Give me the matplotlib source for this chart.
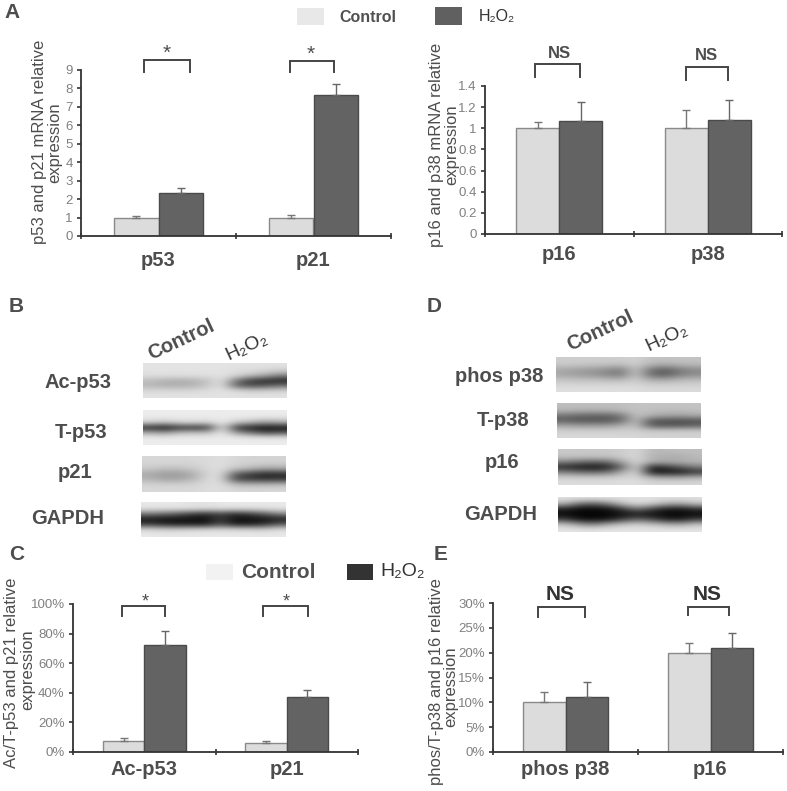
import matplotlib
matplotlib.use('Agg')
import matplotlib.pyplot as plt
import numpy as np
from matplotlib.patches import Rectangle

plt.rcParams['font.family'] = ['Liberation Sans', 'DejaVu Sans']

W, H = 787, 791

# panel A left
a1_cats = ['p53', 'p21']
a1_ctrl = [1.0, 1.0]
a1_ctrl_err = [0.1, 0.15]
a1_h2o2 = [2.35, 7.67]
a1_h2o2_err = [0.25, 0.55]
a1_ticks = [0, 1, 2, 3, 4, 5, 6, 7, 8, 9]
a1_labels = ['0', '1', '2', '3', '4', '5', '6', '7', '8', '9']

# panel A right
a2_cats = ['p16', 'p38']
a2_ctrl = [1.0, 1.0]
a2_ctrl_err = [0.06, 0.17]
a2_h2o2 = [1.07, 1.08]
a2_h2o2_err = [0.18, 0.19]
a2_ticks = [0, 0.2, 0.4, 0.6, 0.8, 1.0, 1.2, 1.4]
a2_labels = ['0', '0.2', '0.4', '0.6', '0.8', '1', '1.2', '1.4']

# panel C
c_cats = ['Ac-p53', 'p21']
c_ctrl = [7.5, 6.0]
c_ctrl_err = [2.0, 1.7]
c_h2o2 = [72.5, 37.5]
c_h2o2_err = [9.0, 4.5]
c_ticks = [0, 20, 40, 60, 80, 100]
c_labels = ['0%', '20%', '40%', '60%', '80%', '100%']

# panel E
e_cats = ['phos p38', 'p16']
e_ctrl = [10, 20]
e_ctrl_err = [2, 2]
e_h2o2 = [11, 21]
e_h2o2_err = [3, 3]
e_ticks = [0, 5, 10, 15, 20, 25, 30]
e_labels = ['0%', '5%', '10%', '15%', '20%', '25%', '30%']

# western blots, grey levels (rows top to bottom, lanes left to right)
blot_ac_p53 = [[228, 228, 228, 228, 228, 228, 225, 225, 225, 225],
               [226, 226, 226, 226, 226, 226, 222, 220, 215, 205],
               [222, 222, 222, 222, 222, 226, 215, 190, 165, 130],
               [190, 178, 175, 180, 195, 226, 120, 60, 45, 35],
               [182, 175, 175, 178, 198, 226, 95, 75, 85, 110],
               [215, 215, 212, 215, 220, 226, 215, 205, 205, 210],
               [226, 226, 226, 226, 226, 226, 226, 226, 226, 226]]
blot_t_p53 = [[236, 236, 236, 236, 236, 236, 236, 236, 236, 236],
              [234, 234, 234, 234, 234, 234, 234, 232, 228, 228],
              [205, 190, 210, 215, 205, 234, 195, 175, 150, 165],
              [40, 20, 50, 50, 50, 234, 50, 30, 15, 20],
              [170, 150, 185, 190, 185, 234, 150, 110, 70, 85],
              [234, 232, 234, 234, 234, 234, 234, 230, 226, 228],
              [236, 236, 236, 236, 236, 236, 236, 236, 236, 236]]
blot_p21 = [[215, 215, 215, 215, 218, 222, 215, 212, 212, 212],
            [212, 212, 212, 212, 218, 222, 212, 208, 205, 205],
            [200, 190, 190, 200, 215, 222, 195, 180, 160, 165],
            [170, 155, 155, 170, 212, 222, 90, 60, 35, 40],
            [180, 165, 165, 180, 215, 222, 70, 60, 50, 55],
            [210, 208, 208, 210, 218, 222, 185, 180, 180, 185],
            [216, 216, 216, 216, 220, 222, 215, 215, 215, 215]]
blot_gapdh_b = [[232, 232, 232, 225, 225, 232, 232, 232, 232, 232],
                [225, 225, 225, 225, 222, 222, 222, 222, 225, 228],
                [120, 105, 90, 60, 45, 70, 40, 60, 90, 130],
                [25, 20, 18, 15, 15, 60, 15, 18, 20, 30],
                [60, 40, 30, 30, 25, 80, 25, 30, 45, 90],
                [215, 205, 205, 210, 215, 215, 215, 210, 205, 220],
                [232, 232, 232, 232, 232, 232, 232, 232, 232, 232]]
blot_phos = [[205, 205, 205, 205, 205, 210, 195, 195, 195, 195],
             [200, 200, 195, 195, 190, 205, 180, 170, 180, 185],
             [170, 160, 155, 145, 125, 200, 120, 95, 125, 140],
             [165, 155, 150, 135, 120, 200, 110, 90, 125, 140],
             [195, 190, 190, 185, 180, 205, 170, 165, 180, 185],
             [212, 212, 212, 212, 212, 215, 205, 205, 208, 208],
             [222, 222, 222, 222, 222, 222, 218, 218, 218, 218]]
blot_t_p38 = [[190, 190, 190, 190, 190, 195, 195, 195, 195, 195],
              [180, 175, 175, 175, 185, 195, 190, 188, 188, 190],
              [115, 105, 100, 100, 120, 195, 175, 165, 160, 170],
              [95, 85, 85, 85, 105, 195, 90, 85, 80, 85],
              [165, 155, 155, 155, 175, 195, 90, 85, 85, 95],
              [205, 205, 205, 205, 205, 205, 200, 200, 200, 200],
              [215, 215, 215, 215, 215, 215, 210, 210, 210, 210]]
blot_p16 = [[200, 200, 200, 200, 205, 215, 185, 185, 190, 190],
            [195, 195, 195, 195, 205, 215, 178, 175, 170, 185],
            [130, 110, 100, 110, 170, 215, 175, 170, 175, 180],
            [40, 25, 20, 30, 110, 215, 35, 60, 90, 125],
            [130, 110, 105, 115, 175, 215, 20, 20, 25, 50],
            [205, 205, 205, 205, 210, 215, 175, 165, 165, 180],
            [220, 220, 220, 220, 222, 222, 215, 215, 215, 215]]
blot_gapdh_d = [[225, 225, 225, 225, 225, 225, 225, 225, 225, 225],
                [175, 110, 95, 130, 190, 215, 205, 170, 160, 190],
                [35, 10, 10, 15, 60, 120, 70, 30, 25, 50],
                [10, 5, 5, 8, 15, 25, 15, 8, 5, 10],
                [60, 15, 10, 18, 60, 100, 70, 30, 25, 60],
                [195, 150, 130, 170, 195, 205, 195, 175, 165, 195],
                [228, 228, 228, 228, 228, 228, 228, 228, 228, 228]]


def px_axes(fig, left, top, right, bottom):
    return fig.add_axes([left / W, 1 - bottom / H, (right - left) / W, (bottom - top) / H])


def bar_panel(fig, box, cats, ctrl, ctrl_err, h2o2, h2o2_err, ticks, labels, ymax, catpad):
    ax = px_axes(fig, *box)
    x = np.array([0.5, 1.5])
    width = 0.29
    ax.bar(x - width / 2, ctrl, width, color='#dcdcdc', edgecolor='#8a8a8a', linewidth=1)
    ax.bar(x + width / 2, h2o2, width, color='#636363', edgecolor='#4a4a4a', linewidth=1)
    ax.errorbar(x - width / 2, ctrl, yerr=[[0, 0], ctrl_err], fmt='none', ecolor='#777777',
                elinewidth=1, capsize=3, capthick=1)
    ax.errorbar(x + width / 2, h2o2, yerr=[[0, 0], h2o2_err], fmt='none', ecolor='#666666',
                elinewidth=1, capsize=3, capthick=1)
    ax.set_xlim(0, 2)
    ax.set_ylim(0, ymax)
    ax.set_yticks(ticks)
    ax.set_yticklabels(labels, color='#808080', fontsize=9.5)
    ax.set_xticks([0, 1, 2])
    ax.set_xticklabels([])
    ax.tick_params(axis='x', direction='inout', length=4, width=1.2, color='#333333')
    ax.tick_params(axis='y', direction='out', length=3, width=1.2, color='#333333', pad=3)
    ax.set_xticks(x, minor=True)
    ax.set_xticklabels(cats, minor=True, fontsize=14.5, fontweight='bold', color='#4d4d4d')
    ax.tick_params(axis='x', which='minor', length=0, pad=catpad)
    for s in ['top', 'right']:
        ax.spines[s].set_visible(False)
    for s in ['left', 'bottom']:
        ax.spines[s].set_linewidth(1.3)
        ax.spines[s].set_color('#333333')
    ax.patch.set_alpha(0)
    return ax


def blot(fig, box, cells):
    ax = px_axes(fig, *box)
    ax.imshow(np.array(cells), cmap='gray', vmin=0, vmax=255, aspect='auto', interpolation='bicubic')
    ax.axis('off')


fig = plt.figure(figsize=(W / 100, H / 100), dpi=100)

bar_panel(fig, (81, 70, 391, 236), a1_cats, a1_ctrl, a1_ctrl_err, a1_h2o2, a1_h2o2_err,
          a1_ticks, a1_labels, 9, 10.5)
bar_panel(fig, (485, 86, 782, 234), a2_cats, a2_ctrl, a2_ctrl_err, a2_h2o2, a2_h2o2_err,
          a2_ticks, a2_labels, 1.4, 8)
bar_panel(fig, (73, 604, 358, 752), c_cats, c_ctrl, c_ctrl_err, c_h2o2, c_h2o2_err,
          c_ticks, c_labels, 100, 6)
bar_panel(fig, (493, 603, 783, 752), e_cats, e_ctrl, e_ctrl_err, e_h2o2, e_h2o2_err,
          e_ticks, e_labels, 30, 6)

blot(fig, (143, 363, 287, 398), blot_ac_p53)
blot(fig, (143, 410, 287, 445), blot_t_p53)
blot(fig, (142, 456, 286, 492), blot_p21)
blot(fig, (141, 502, 286, 537), blot_gapdh_b)
blot(fig, (556, 357, 701, 392), blot_phos)
blot(fig, (557, 403, 701, 438), blot_t_p38)
blot(fig, (558, 449, 702, 485), blot_p16)
blot(fig, (558, 497, 702, 532), blot_gapdh_d)

# overlay in picture pixels for labels, brackets and legends
ov = fig.add_axes([0, 0, 1, 1], zorder=5)
ov.set_xlim(0, W)
ov.set_ylim(H, 0)
ov.axis('off')


def txt(x, y, s, size=12, weight='normal', color='#4d4d4d', rot=0):
    ov.text(x, y, s, fontsize=size, fontweight=weight, color=color, rotation=rot,
            ha='center', va='center', rotation_mode='anchor')


def bracket(x0, x1, top, bottom):
    ov.plot([x0, x0, x1, x1], [bottom, top, top, bottom], color='#444444', lw=1.4,
            solid_joinstyle='miter')


# panel letters
for letter, lx, ly in [('A', 12, 13), ('B', 16, 306), ('D', 434, 306), ('C', 17, 554), ('E', 441, 555)]:
    txt(lx, ly, letter, size=15, weight='bold')

# legends
ov.add_patch(Rectangle((297, 8), 27, 17, color='#e8e8e8', lw=0))
ov.add_patch(Rectangle((435, 7), 27, 18, color='#606060', lw=0))
txt(368, 17, 'Control', size=11.5, weight='bold', color='#505050')
txt(497, 17, 'H₂O₂', size=11.5, color='#333333')
ov.add_patch(Rectangle((206, 564), 27, 16, color='#f2f2f2', lw=0))
ov.add_patch(Rectangle((347, 564), 26, 16, color='#333333', lw=0))
txt(278, 572, 'Control', size=15, weight='bold', color='#505050')
txt(403, 572, 'H₂O₂', size=14, color='#333333')

# y labels
txt(40, 142, 'p53 and p21 mRNA relative', size=12, rot=90)
txt(55, 143, 'expression', size=12, rot=90)
txt(437, 145, 'p16 and p38 mRNA relative', size=12, rot=90)
txt(452, 145, 'expression', size=12, rot=90)
txt(12, 673, 'Ac/T-p53 and p21 relative', size=12, rot=90)
txt(28, 670, 'expression', size=12, rot=90)
txt(436, 682, 'phos/T-p38 and p16 relative', size=12, rot=90)
txt(451, 687, 'expression', size=12, rot=90)

# significance brackets
bracket(144, 190, 60, 72)
bracket(290, 334, 61, 72)
bracket(535, 580, 64, 77)
bracket(686, 728, 67, 80)
bracket(122, 165, 606, 616)
bracket(263, 308, 606, 616)
bracket(538, 585, 607, 617)
bracket(688, 729, 607, 615)
txt(167, 53, '*', size=15)
txt(311, 54, '*', size=15)
txt(145, 602, '*', size=13)
txt(286, 602, '*', size=13)
txt(559, 53, 'NS', size=12, weight='bold')
txt(706, 55, 'NS', size=12, weight='bold')
txt(560, 595, 'NS', size=15, weight='bold', color='#333333')
txt(707, 595, 'NS', size=15, weight='bold', color='#333333')

# blot labels
txt(78, 382, 'Ac-p53', size=14.5, weight='bold')
txt(81, 432, 'T-p53', size=14.5, weight='bold')
txt(75, 473, 'p21', size=14.5, weight='bold')
txt(68, 518, 'GAPDH', size=14.5, weight='bold')
txt(499, 377, 'phos p38', size=14.5, weight='bold')
txt(503, 420, 'T-p38', size=14.5, weight='bold')
txt(502, 463, 'p16', size=14.5, weight='bold')
txt(501, 515, 'GAPDH', size=14.5, weight='bold')
txt(181, 340, 'Control', size=14.5, weight='bold', rot=25)
txt(247, 347, 'H₂O₂', size=14, color='#333333', rot=25)
txt(600, 331, 'Control', size=14.5, weight='bold', rot=25)
txt(667, 338, 'H₂O₂', size=14, color='#333333', rot=25)

fig.savefig('out.png', dpi=100)
